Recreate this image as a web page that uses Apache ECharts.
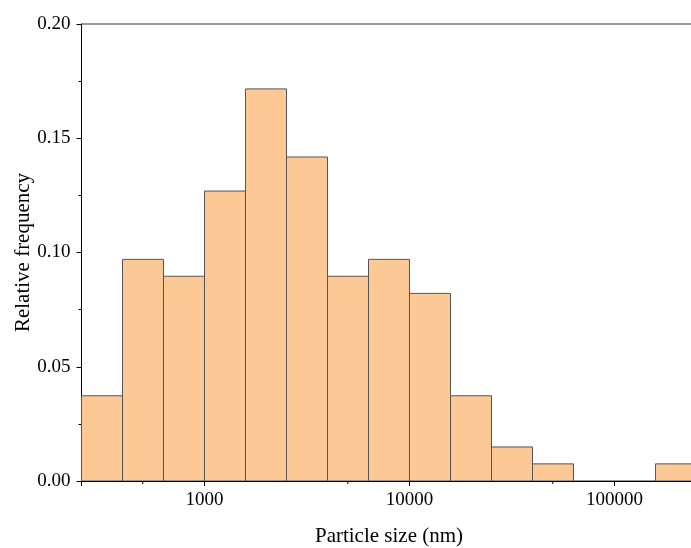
<!DOCTYPE html>
<html>
<head>
<meta charset="utf-8">
<script src="https://cdn.jsdelivr.net/npm/echarts@6/dist/echarts.min.js"></script>
<style>
html,body{margin:0;padding:0;background:#fff;}
#chart{width:691px;height:548px;}
</style>
</head>
<body>
<div id="chart"></div>
<script>
// Bin edges (nm), log-spaced histogram bins
var binStarts = [251.19, 398.11, 630.96, 1000, 1584.9, 2511.9, 3981.1, 6309.6, 10000, 15849, 25119, 39811, 63096, 100000, 158489];
var binEnds   = [398.11, 630.96, 1000, 1584.9, 2511.9, 3981.1, 6309.6, 10000, 15849, 25119, 39811, 63096, 100000, 158489, 251189];
// Relative frequency of each bin
var freqs = [0.0373, 0.0970, 0.0896, 0.1269, 0.1716, 0.1418, 0.0896, 0.0970, 0.0821, 0.0373, 0.0149, 0.0075, 0, 0, 0.0075];
// Minor x tick positions
var xMinorTicks = [500, 5000, 50000];
var yTicks = [0, 0.05, 0.10, 0.15, 0.20];

var barData = binStarts.map(function (s, i) { return [s, binEnds[i], freqs[i]]; });

var FONT = 'Liberation Serif';
var chart = echarts.init(document.getElementById('chart'), null, {renderer: 'canvas'});
chart.setOption({
  animation: false,
  backgroundColor: '#fff',
  grid: {
    left: 81.5, top: 24, width: 615, bottom: 67,
    outerBoundsMode: 'none', containLabel: false,
    show: true, borderColor: '#333', borderWidth: 1, backgroundColor: 'transparent'
  },
  xAxis: {
    type: 'log', logBase: 10, min: 251.19, max: 251189,
    name: 'Particle size (nm)', nameLocation: 'middle', nameGap: 45,
    nameMoveOverlap: false,
    nameTextStyle: {fontFamily: FONT, fontSize: 21, color: '#000'},
    axisLine: {show: true, onZero: false, lineStyle: {color: '#000', width: 1}},
    axisTick: {show: true, inside: false, length: 5, lineStyle: {color: '#000'}},
    axisLabel: {
      fontFamily: FONT, fontSize: 19, color: '#000', margin: 10,
      formatter: function (v) {
        var r = Math.round(v);
        return (r === 1000 || r === 10000 || r === 100000) ? String(r) : '';
      }
    },
    splitLine: {show: false}, minorTick: {show: false}
  },
  yAxis: {
    type: 'value', min: 0, max: 0.2, interval: 0.05,
    name: 'Relative frequency', nameLocation: 'middle', nameGap: 48,
    nameMoveOverlap: false,
    nameTextStyle: {fontFamily: FONT, fontSize: 21, color: '#000'},
    axisLine: {show: true, lineStyle: {color: '#000', width: 1}},
    axisTick: {show: true, inside: false, length: 5, lineStyle: {color: '#000'}},
    minorTick: {show: true, splitNumber: 2, length: 3, lineStyle: {color: '#000'}},
    axisLabel: {
      fontFamily: FONT, fontSize: 19, color: '#000', margin: 11,
      formatter: function (v) { return v.toFixed(2); }
    },
    splitLine: {show: false}
  },
  series: [
    {
      type: 'custom',
      data: barData,
      encode: {x: [0, 1], y: 2},
      clip: true,
      renderItem: function (params, api) {
        var h = api.value(2);
        if (!h) return null;
        var p0 = api.coord([api.value(0), h]);
        var p1 = api.coord([api.value(1), 0]);
        return {
          type: 'rect',
          shape: {x: p0[0], y: p0[1], width: p1[0] - p0[0], height: p1[1] - p0[1]},
          style: {fill: '#FCC896', stroke: '#555', lineWidth: 1}
        };
      }
    },
    {
      type: 'custom',
      data: xMinorTicks.map(function (v) { return [v, 0]; }),
      encode: {x: 0, y: 1},
      clip: false,
      z: 5,
      renderItem: function (params, api) {
        var p = api.coord([api.value(0), 0]);
        return {
          type: 'line',
          shape: {x1: p[0], y1: p[1], x2: p[0], y2: p[1] + 3},
          style: {stroke: '#000', lineWidth: 1}
        };
      }
    }
  ]
});
</script>
</body>
</html>
